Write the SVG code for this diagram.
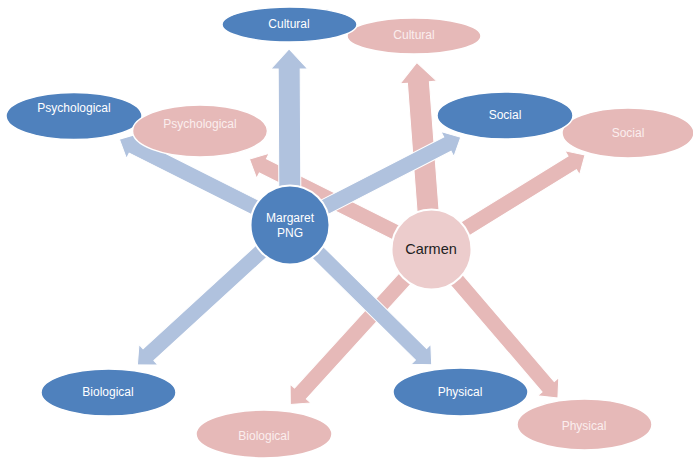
<svg xmlns="http://www.w3.org/2000/svg" width="693" height="458" viewBox="0 0 693 458">
<style>
.ba{fill:#b0c2de;stroke:#fff;stroke-width:1}
.pa{fill:#e6b9b8;stroke:#fff;stroke-width:1}
.be{fill:#4f81bd;stroke:#fff;stroke-width:1.5}
.pe{fill:#e6b9b8;stroke:#fff;stroke-width:1.5}
.t{font-family:"Liberation Sans",Arial,sans-serif;font-size:12px;fill:#fff;text-anchor:middle;dominant-baseline:central}
.tp{fill:#fbeeee}
</style>
<rect width="693" height="458" fill="#fff"/>
<g id="connectors">
<g id="pink-arrows">
<path class="pa" transform="translate(431,250) rotate(-94.3)" d="M0,-11 H168 V-18.5 L188,0 L168,18.5 V11 H0 Z"/>
<path class="pa" transform="translate(431,250) rotate(-153.4)" d="M0,-8 H188 V-14 L203,0 L188,14 V8 H0 Z"/>
<path class="pa" transform="translate(431,250) rotate(-31.7)" d="M0,-8 H166 V-14 L181,0 L166,14 V8 H0 Z"/>
<path class="pa" transform="translate(431,250) rotate(132.3)" d="M0,-8 H194 V-14 L209,0 L194,14 V8 H0 Z"/>
<path class="pa" transform="translate(431,250) rotate(49.4)" d="M0,-8 H180 V-14 L195,0 L180,14 V8 H0 Z"/>
</g>
<g id="blue-arrows">
<path class="ba" transform="translate(290,225) rotate(-90.3)" d="M0,-11 H156 V-18.5 L176,0 L156,18.5 V11 H0 Z"/>
<path class="ba" transform="translate(290,225) rotate(-153.3)" d="M0,-8 H176 V-14 L191,0 L176,14 V8 H0 Z"/>
<path class="ba" transform="translate(290,225) rotate(-27.2)" d="M0,-8 H177 V-14 L192,0 L177,14 V8 H0 Z"/>
<path class="ba" transform="translate(290,225) rotate(137.5)" d="M0,-8 H192 V-14 L207,0 L192,14 V8 H0 Z"/>
<path class="ba" transform="translate(290,225) rotate(44.6)" d="M0,-8 H184 V-14 L199,0 L184,14 V8 H0 Z"/>
</g>
</g>
<g id="blue-psychological"><ellipse class="be" cx="74" cy="116" rx="68" ry="23.5"/><text class="t" x="74" y="108">Psychological</text></g>
<g id="pink-psychological"><ellipse class="pe" cx="200" cy="131" rx="67.5" ry="26"/><text class="t tp" x="200" y="124">Psychological</text></g>
<g id="pink-cultural"><ellipse class="pe" cx="414" cy="36" rx="67" ry="18"/><text class="t tp" x="414" y="35">Cultural</text></g>
<g id="blue-cultural"><ellipse class="be" cx="289.5" cy="24.5" rx="67.5" ry="17.5"/><text class="t" x="289" y="24">Cultural</text></g>
<g id="pink-social"><ellipse class="pe" cx="628" cy="133" rx="66" ry="25"/><text class="t tp" x="628" y="133">Social</text></g>
<g id="blue-social"><ellipse class="be" cx="505" cy="115.5" rx="68" ry="23.5"/><text class="t" x="505" y="115">Social</text></g>
<g id="blue-biological"><ellipse class="be" cx="108.5" cy="392.5" rx="67.5" ry="23.5"/><text class="t" x="108" y="392">Biological</text></g>
<g id="pink-biological"><ellipse class="pe" cx="264" cy="434" rx="68" ry="24"/><text class="t tp" x="264" y="436">Biological</text></g>
<g id="blue-physical"><ellipse class="be" cx="460.5" cy="392" rx="67.5" ry="24"/><text class="t" x="460" y="392">Physical</text></g>
<g id="pink-physical"><ellipse class="pe" cx="584.5" cy="424.5" rx="67.5" ry="25.5"/><text class="t tp" x="584" y="426">Physical</text></g>
<g id="carmen"><circle cx="431.5" cy="249.5" r="40" fill="#eccccc" stroke="#fff" stroke-width="2"/><text class="t" x="431" y="249" style="fill:#222;font-size:14.5px">Carmen</text></g>
<g id="margaret"><circle cx="290" cy="225" r="39.5" fill="#4f81bd" stroke="#fff" stroke-width="2"/><text class="t" x="290" y="218">Margaret</text><text class="t" x="290" y="233">PNG</text></g>
</svg>
